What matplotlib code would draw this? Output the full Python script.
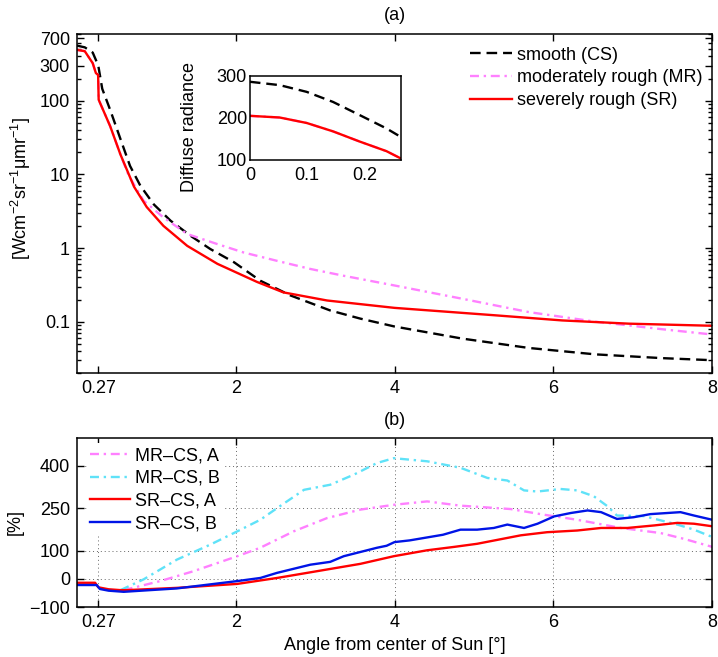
"""
Radiance profiles around the solar disk for smooth and rough ice-crystal models,
plus relative differences (MR-CS, SR-CS) for two cases.
"""

import numpy as np
import matplotlib
matplotlib.use('Agg')
import matplotlib.pyplot as plt
from matplotlib.ticker import FixedLocator, LogLocator, NullFormatter

plt.rcParams['font.family'] = ['Liberation Sans', 'DejaVu Sans']
plt.rcParams['mathtext.fontset'] = 'custom'
plt.rcParams['mathtext.rm'] = 'Liberation Sans'
plt.rcParams['mathtext.it'] = 'Liberation Sans:italic'
plt.rcParams['font.size'] = 13

FS = 13

# ---- panel (a): radiance vs angle ----
cs_x = [0, 0.1, 0.2, 0.27, 0.32, 0.42, 0.55, 0.67, 0.8, 0.97, 1.18, 1.43, 1.68,
        1.98, 2.31, 2.69, 3.19, 3.57, 4.0, 4.85, 5.69, 6.53, 7.37, 8.0]
cs_y = [560, 530, 450, 300, 145, 75, 30, 13, 7.0, 3.9, 2.35, 1.47, 0.97,
        0.64, 0.36, 0.227, 0.142, 0.11, 0.086, 0.059, 0.044, 0.036, 0.032, 0.030]

sr_x = [0, 0.1, 0.2, 0.24, 0.268, 0.275, 0.42, 0.55, 0.72, 0.88, 1.09, 1.39,
        1.77, 2.27, 2.6, 3.15, 4.0, 5.27, 6.11, 6.95, 8.0]
sr_y = [490, 470, 323, 237, 224, 103, 45, 18.5, 6.8, 3.6, 2.0, 1.07,
        0.61, 0.346, 0.25, 0.194, 0.154, 0.122, 0.104, 0.094, 0.088]

mr_x = [0, 0.1, 0.2, 0.24, 0.268, 0.275, 0.42, 0.55, 0.65, 0.84, 1.09, 1.39,
        1.77, 2.1, 2.52, 2.94, 3.36, 4.0, 4.85, 5.69, 6.53, 7.37, 8.0]
mr_y = [490, 470, 323, 237, 224, 103, 45, 18.5, 9.8, 4.4, 2.6, 1.55,
        1.13, 0.87, 0.67, 0.52, 0.42, 0.31, 0.205, 0.135, 0.1, 0.079, 0.067]

# inset: diffuse radiance inside the disk
in_x = [0, 0.052, 0.099, 0.145, 0.191, 0.238, 0.264]
in_cs = [286, 278, 262, 238, 207, 175, 154]
in_sr = [205, 201, 188, 168, 144, 121, 103]
in_mr = [205, 201, 188, 168, 144, 121, 103]

# ---- panel (b): relative differences [%] ----
sra_x = [0, 0.23, 0.27, 0.4, 0.55, 0.63, 1.26, 2.02, 2.52, 3.15, 3.57, 3.99,
         4.41, 4.75, 5.04, 5.59, 5.92, 6.3, 6.6, 6.93, 7.27, 7.56, 7.77, 8.0]
sra_y = [-14, -14, -30, -37, -40, -40, -32, -18, 3, 33, 53, 80,
         101, 113, 124, 154, 165, 171, 180, 180, 189, 198, 195, 186]

srb_x = [0, 0.25, 0.29, 0.4, 0.59, 1.26, 2.02, 2.31, 2.52, 2.94, 3.19, 3.36,
         3.78, 3.9, 4.0, 4.19, 4.61, 4.83, 5.04, 5.25, 5.42, 5.63, 5.8, 6.01,
         6.22, 6.43, 6.6, 6.8, 7.01, 7.22, 7.6, 7.77, 8.0]
srb_y = [-22, -22, -36, -42, -46, -34, -8, 3, 21, 50, 60, 80,
         110, 117, 130, 136, 156, 174, 174, 180, 192, 180, 195, 221,
         233, 242, 236, 212, 218, 229, 236, 224, 209]

mra_x = [0.59, 1.05, 1.47, 2.02, 2.31, 2.73, 3.15, 3.57, 3.99, 4.41, 4.83,
         5.46, 5.88, 6.3, 6.85, 7.35, 7.65, 8.0]
mra_y = [-40, -8, 27, 80, 110, 168, 215, 245, 262, 274, 259,
         247, 227, 209, 180, 162, 141, 113]

mrb_x = [0.55, 0.84, 1.26, 1.68, 2.02, 2.31, 2.52, 2.86, 3.19, 3.49, 3.78,
         3.99, 4.41, 4.83, 5.17, 5.42, 5.63, 5.8, 6.09, 6.3, 6.51, 6.68, 6.8,
         7.14, 7.56, 7.77, 8.0]
mrb_y = [-40, -2, 68, 121, 168, 209, 250, 315, 333, 369, 410,
         427, 416, 393, 357, 348, 313, 309, 318, 313, 292, 257, 224,
         222, 192, 174, 148]

x_ticks = [0.27, 2, 4, 6, 8]
x_tick_labels = ['0.27', '2', '4', '6', '8']
top_y_ticks = [0.1, 1, 10, 100, 300, 700]
top_y_labels = ['0.1', '1', '10', '100', '300', '700']
bot_y_ticks = [-100, 0, 100, 250, 400]

red = '#ff0000'
pink = '#ff80ff'
cyan = '#5fe2f8'
blue = '#0014e6'

fig = plt.figure(figsize=(7.18, 6.57), dpi=100)

# main axes positions (figure fractions)
ax1 = fig.add_axes([0.107, 0.432, 0.885, 0.516])
ax2 = fig.add_axes([0.107, 0.076, 0.885, 0.258])


def matlab_ticks(ax):
    ax.tick_params(which='both', direction='in', top=True, right=True, width=1)
    ax.tick_params(which='major', length=5, labelsize=FS, pad=5)
    ax.tick_params(which='minor', length=3)
    for sp in ax.spines.values():
        sp.set_linewidth(1.1)


# ---- panel (a) ----
ax1.plot(cs_x, cs_y, color='black', lw=1.7, dashes=(4.5, 2.5), label='smooth (CS)')
ax1.plot(mr_x, mr_y, color=pink, lw=1.7, dashes=(3.8, 2, 1, 2), label='moderately rough (MR)')
ax1.plot(sr_x, sr_y, color=red, lw=1.7, label='severely rough (SR)')
ax1.set_yscale('log')
ax1.set_xlim(0, 8)
ax1.set_ylim(0.02, 800)
ax1.yaxis.set_major_locator(FixedLocator(top_y_ticks))
ax1.set_yticklabels(top_y_labels)
ax1.yaxis.set_minor_locator(LogLocator(base=10, subs=np.arange(2, 10)))
ax1.yaxis.set_minor_formatter(NullFormatter())
ax1.set_xticks(x_ticks)
ax1.set_xticklabels(x_tick_labels)
matlab_ticks(ax1)
ax1.set_ylabel('[Wcm$^{-2}$sr$^{-1}$μmr$^{-1}$]', fontsize=FS)
ax1.yaxis.set_label_coords(-0.069, 0.546)
ax1.set_title('(a)', fontsize=FS, pad=10)
ax1.legend(loc='upper left', bbox_to_anchor=(0.619, 0.963), frameon=False,
           handlelength=2.3, handletextpad=0.3, labelspacing=0.32,
           borderpad=0, borderaxespad=0, fontsize=FS)

# inset
axi = fig.add_axes([0.348, 0.7565, 0.211, 0.128])
axi.plot(in_x, in_cs, color='black', lw=1.7, dashes=(4.5, 2.5))
axi.plot(in_x, in_mr, color=pink, lw=1.7, dashes=(3.8, 2, 1, 2))
axi.plot(in_x, in_sr, color=red, lw=1.7)
axi.set_xlim(0, 0.264)
axi.set_ylim(100, 300)
axi.set_xticks([0, 0.1, 0.2])
axi.set_xticklabels(['0', '0.1', '0.2'])
axi.set_yticks([100, 200, 300])
matlab_ticks(axi)
axi.tick_params(which='both', top=False, right=False, length=0)
axi.tick_params(axis='y', pad=2)
axi.tick_params(axis='x', pad=5)
axi.set_ylabel('Diffuse radiance', fontsize=FS)
axi.yaxis.set_label_coords(-0.34, 0.39)

# ---- panel (b) ----
ax2.plot(mra_x, mra_y, color=pink, lw=1.7, dashes=(3.8, 2, 1, 2), label='MR\u2013CS, A')
ax2.plot(mrb_x, mrb_y, color=cyan, lw=1.7, dashes=(3.8, 2, 1, 2), label='MR\u2013CS, B')
ax2.plot(sra_x, sra_y, color=red, lw=1.7, label='SR\u2013CS, A')
ax2.plot(srb_x, srb_y, color=blue, lw=1.7, label='SR\u2013CS, B')
ax2.set_xlim(0, 8)
ax2.set_ylim(-100, 500)
ax2.set_xticks(x_ticks)
ax2.set_xticklabels(x_tick_labels)
ax2.set_yticks(bot_y_ticks)
ax2.grid(True, linestyle=(0, (1, 3)), color='#666666', lw=0.7)
matlab_ticks(ax2)
ax2.set_ylabel('[%]', fontsize=FS)
ax2.set_xlabel('Angle from center of Sun [°]', fontsize=FS, labelpad=4)
ax2.set_title('(b)', fontsize=FS, pad=9)
leg = ax2.legend(loc='upper left', bbox_to_anchor=(0.0153, 0.965), frameon=True,
                 handlelength=2.2, handletextpad=0.3, labelspacing=0.32,
                 borderpad=0.2, borderaxespad=0, fontsize=FS, fancybox=False)
leg.get_frame().set_edgecolor('none')
leg.get_frame().set_facecolor('white')
leg.get_frame().set_alpha(1)

fig.savefig('out.png', dpi=100)
plt.close(fig)
